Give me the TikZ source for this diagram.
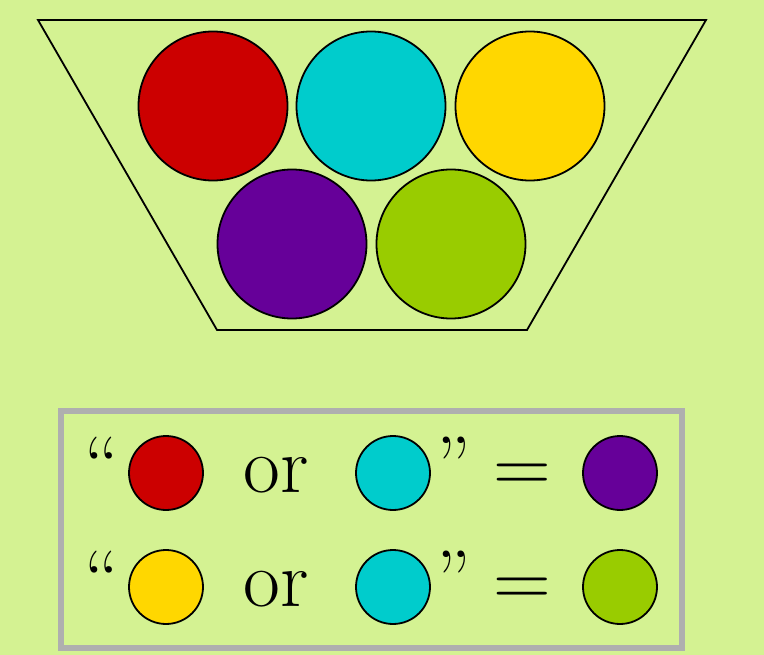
\documentclass[tikz,border=0pt]{standalone}
\usetikzlibrary{positioning}
\definecolor{bggreen}{HTML}{D4F292}
\definecolor{cred}{HTML}{CC0000}
\definecolor{ccyan}{HTML}{00CCCC}
\definecolor{cyellow}{HTML}{FFD700}
\definecolor{cpurple}{HTML}{660099}
\definecolor{cgreen}{HTML}{99CC00}
\definecolor{framegray}{HTML}{AFAFAF}
\tikzset{
  ball/.style={circle, draw=black, line width=1.8pt, minimum size=149pt, inner sep=0pt},
  chip/.style={ball, minimum size=74pt},
  sym/.style={inner sep=0pt, font=\fontsize{80}{80}\selectfont},
}
\begin{document}
\begin{tikzpicture}[x=1pt, y=-1pt]
  \fill[bggreen] (0,0) rectangle (764,655);
  \useasboundingbox (0,0) rectangle (764,655);
  % the bowl
  \draw[line width=1.8pt] (38,20) -- (706,20) -- (527,330) -- (217,330) -- cycle;
  \node[ball, fill=cred] (red) at (213,106) {};
  \node[ball, fill=ccyan] (cyan) at (371,106) {};
  \node[ball, fill=cyellow] (yellow) at (530,106) {};
  \node[ball, fill=cpurple] (purple) at (292,244) {};
  \node[ball, fill=cgreen] (green) at (451,244) {};
  % the legend
  \draw[framegray, line width=6pt] (61,411) rectangle (682,648);
  \node[sym, anchor=north] (q1) at (102,437) {``};
  \node[chip, fill=cred] (r1a) at (166,473) {};
  \node[sym, anchor=base] (or1) at (276,492) {or};
  \node[chip, fill=ccyan] (r1b) at (393,473) {};
  \node[sym, anchor=north] (p1) at (454,437) {''};
  \node[sym, anchor=base] (eq1) at (522,492) {=};
  \node[chip, fill=cpurple] (r1c) at (620,473) {};
  \node[sym, anchor=north] (q2) at (102,551) {``};
  \node[chip, fill=cyellow] (r2a) at (166,587) {};
  \node[sym, anchor=base] (or2) at (276,606) {or};
  \node[chip, fill=ccyan] (r2b) at (393,587) {};
  \node[sym, anchor=north] (p2) at (454,551) {''};
  \node[sym, anchor=base] (eq2) at (522,606) {=};
  \node[chip, fill=cgreen] (r2c) at (620,587) {};
\end{tikzpicture}
\end{document}
